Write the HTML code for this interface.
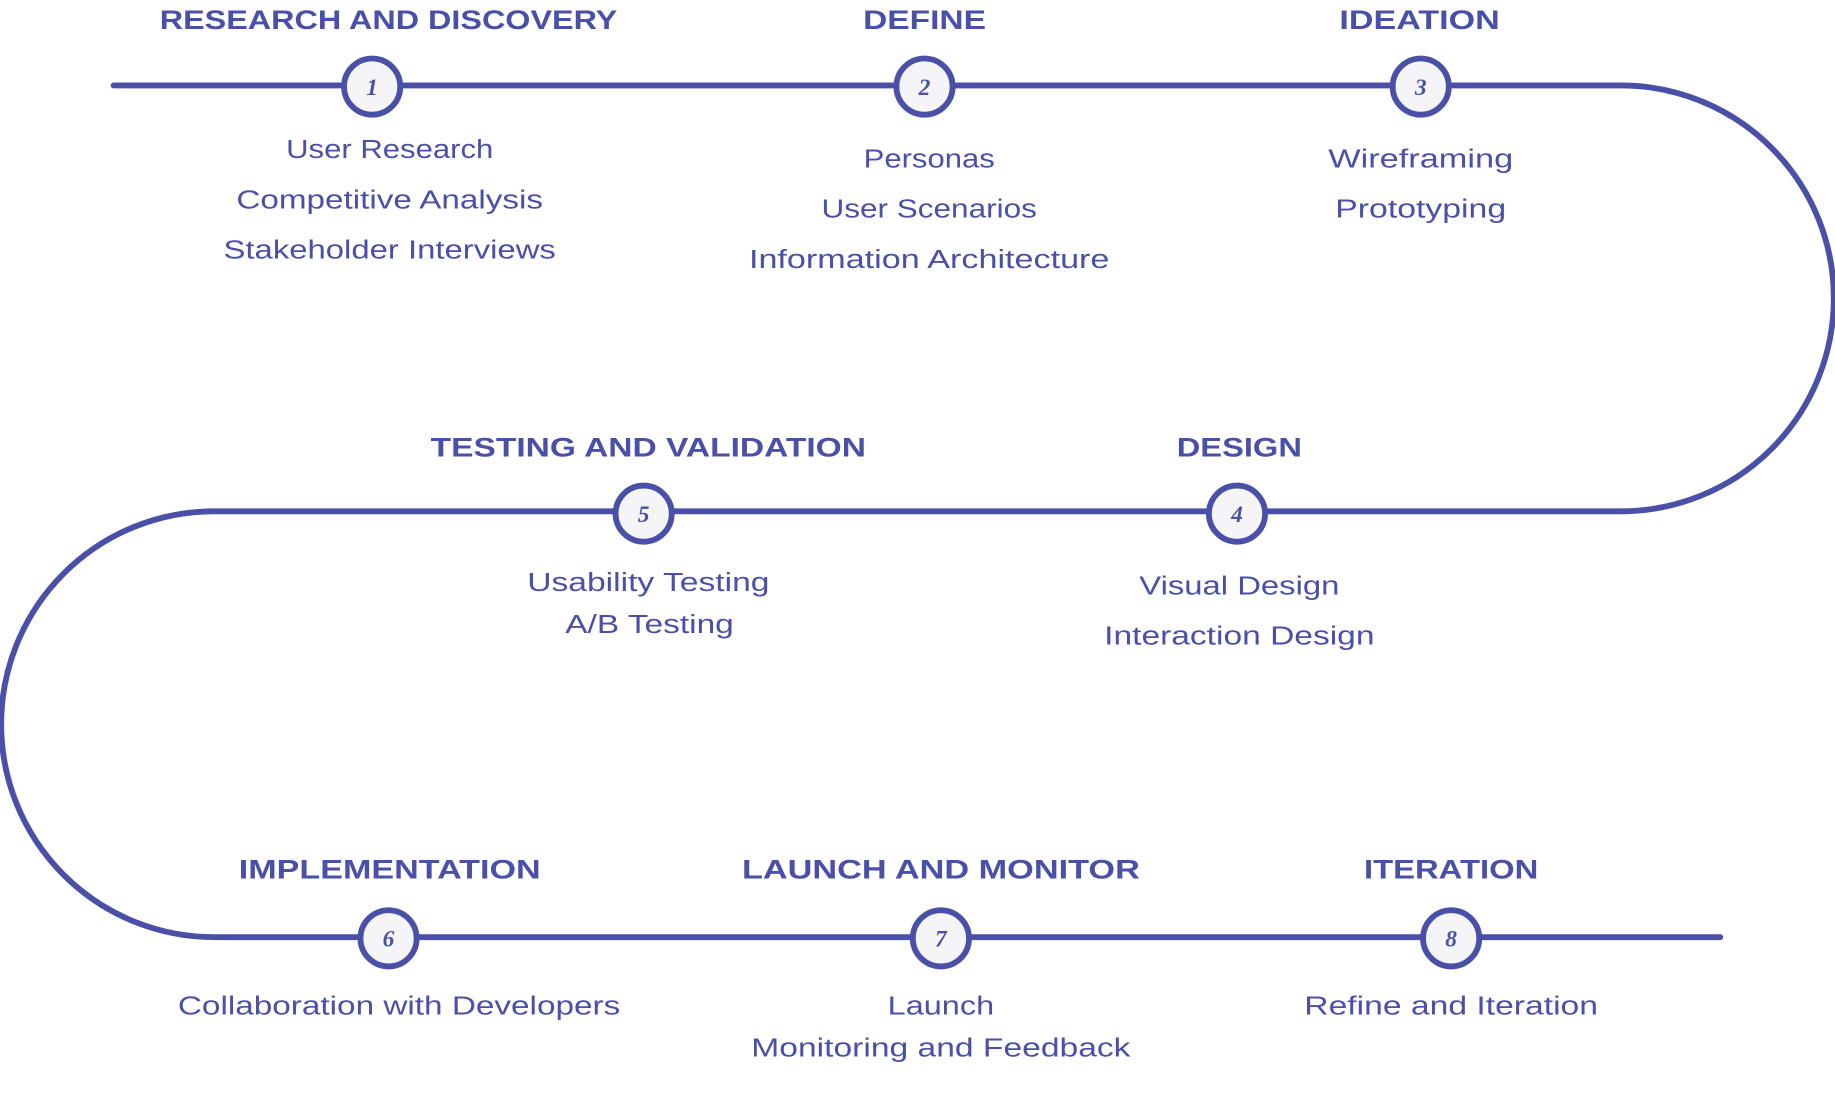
<!DOCTYPE html>
<html><head><meta charset="utf-8"><style>
html,body{margin:0;padding:0;background:#fff;}
svg{display:block}
text{font-family:"Liberation Sans",sans-serif;fill:#4a4fa8;text-anchor:middle}
.h{font-weight:bold;font-size:23px}
.s{font-size:22px}
.n{font-weight:bold;font-style:italic;font-size:20px;font-family:"Liberation Serif",serif}
</style></head><body>
<svg width="1835" height="1115" viewBox="0 0 1568 953" preserveAspectRatio="none">
<path d="M97 73 H1385 A182 182 0 0 1 1385 437 H183 A182 182 0 0 0 183 801 H1470" fill="none" stroke="#4a4fa8" stroke-width="5" stroke-linecap="round"/>
<g fill="#f5f5f7" stroke="#4a4fa8" stroke-width="5">
<circle cx="318" cy="74" r="24"/><circle cx="790" cy="74" r="24"/><circle cx="1214" cy="74" r="24"/>
<circle cx="1057" cy="439" r="24"/><circle cx="550" cy="439" r="24"/>
<circle cx="332" cy="802" r="24"/><circle cx="804" cy="802" r="24"/><circle cx="1240" cy="802" r="24"/>
</g>
<text class="n" x="318" y="81">1</text><text class="n" x="790" y="81">2</text><text class="n" x="1214" y="81">3</text>
<text class="n" x="1057" y="446">4</text><text class="n" x="550" y="446">5</text>
<text class="n" x="332" y="809">6</text><text class="n" x="804" y="809">7</text><text class="n" x="1240" y="809">8</text>

<text class="h" x="332" y="25" textLength="391" lengthAdjust="spacingAndGlyphs">RESEARCH AND DISCOVERY</text>
<text class="h" x="790" y="25" textLength="105" lengthAdjust="spacingAndGlyphs">DEFINE</text>
<text class="h" x="1213" y="25" textLength="137" lengthAdjust="spacingAndGlyphs">IDEATION</text>
<text class="h" x="554" y="390" textLength="372" lengthAdjust="spacingAndGlyphs">TESTING AND VALIDATION</text>
<text class="h" x="1059" y="390" textLength="107" lengthAdjust="spacingAndGlyphs">DESIGN</text>
<text class="h" x="333" y="751" textLength="258" lengthAdjust="spacingAndGlyphs">IMPLEMENTATION</text>
<text class="h" x="804" y="751" textLength="340" lengthAdjust="spacingAndGlyphs">LAUNCH AND MONITOR</text>
<text class="h" x="1240" y="751" textLength="149" lengthAdjust="spacingAndGlyphs">ITERATION</text>

<text class="s" x="333" y="135" textLength="177" lengthAdjust="spacingAndGlyphs">User Research</text>
<text class="s" x="333" y="178" textLength="262" lengthAdjust="spacingAndGlyphs">Competitive Analysis</text>
<text class="s" x="333" y="221" textLength="284" lengthAdjust="spacingAndGlyphs">Stakeholder Interviews</text>
<text class="s" x="794" y="143" textLength="112" lengthAdjust="spacingAndGlyphs">Personas</text>
<text class="s" x="794" y="186" textLength="184" lengthAdjust="spacingAndGlyphs">User Scenarios</text>
<text class="s" x="794" y="229" textLength="308" lengthAdjust="spacingAndGlyphs">Information Architecture</text>
<text class="s" x="1214" y="143" textLength="158" lengthAdjust="spacingAndGlyphs">Wireframing</text>
<text class="s" x="1214" y="186" textLength="146" lengthAdjust="spacingAndGlyphs">Prototyping</text>
<text class="s" x="1059" y="508" textLength="171" lengthAdjust="spacingAndGlyphs">Visual Design</text>
<text class="s" x="1059" y="551" textLength="231" lengthAdjust="spacingAndGlyphs">Interaction Design</text>
<text class="s" x="554" y="505" textLength="207" lengthAdjust="spacingAndGlyphs">Usability Testing</text>
<text class="s" x="555" y="541" textLength="144" lengthAdjust="spacingAndGlyphs">A/B Testing</text>
<text class="s" x="341" y="867" textLength="378" lengthAdjust="spacingAndGlyphs">Collaboration with Developers</text>
<text class="s" x="804" y="867" textLength="91" lengthAdjust="spacingAndGlyphs">Launch</text>
<text class="s" x="804" y="903" textLength="324" lengthAdjust="spacingAndGlyphs">Monitoring and Feedback</text>
<text class="s" x="1240" y="867" textLength="251" lengthAdjust="spacingAndGlyphs">Refine and Iteration</text>
</svg>
</body></html>
